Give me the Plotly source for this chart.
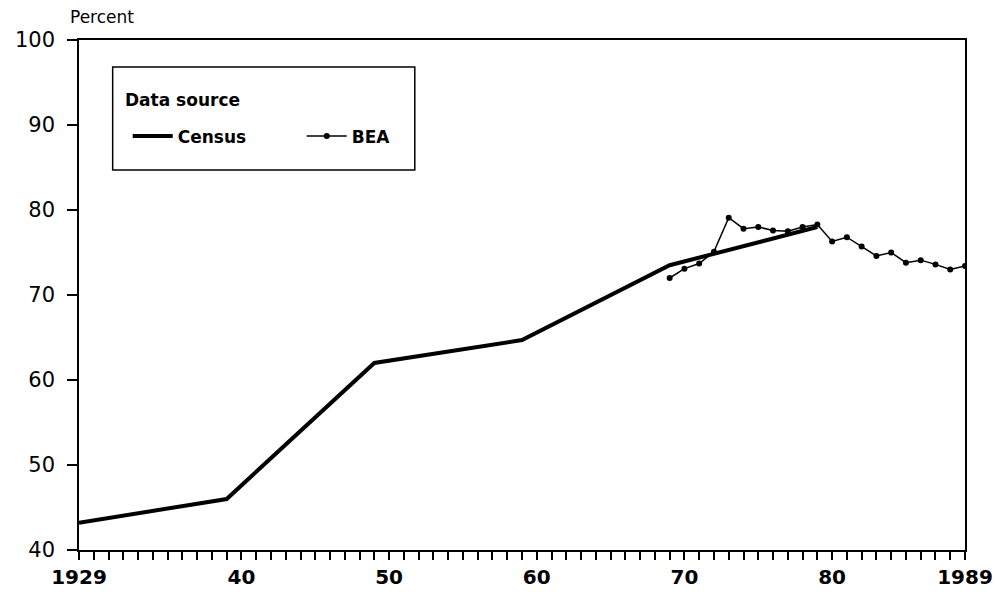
import plotly.graph_objects as go

# Census (decennial) and BEA (annual) series, percent
census_years = [1929, 1939, 1949, 1959, 1969, 1979]
census_pct = [43.2, 46.0, 62.0, 64.7, 73.5, 78.0]

bea_years = list(range(1969, 1990))
bea_pct = [72.0, 73.1, 73.7, 75.1, 79.1, 77.8, 78.0, 77.6, 77.5, 78.0, 78.3,
           76.3, 76.8, 75.7, 74.6, 75.0, 73.8, 74.1, 73.6, 73.0, 73.4]

xtick_vals = [1929, 1940, 1950, 1960, 1970, 1980, 1989]
xtick_text = ["1929", "40", "50", "60", "70", "80", "1989"]
ytick_vals = [40, 50, 60, 70, 80, 90, 100]

FONT = "DejaVu Sans, sans-serif"

fig = go.Figure()
fig.add_trace(go.Scatter(x=census_years, y=census_pct, mode="lines", name="<b>Census</b>",
                         line=dict(color="black", width=4)))
fig.add_trace(go.Scatter(x=bea_years, y=bea_pct, mode="lines+markers", name="<b>BEA</b>",
                         line=dict(color="black", width=1.5),
                         marker=dict(color="black", size=6)))

# legend frame + title
fig.add_shape(type="rect", xref="paper", yref="paper", x0=0.038, x1=0.379, y0=0.745, y1=0.947,
              line=dict(color="black", width=1.5), fillcolor="white", layer="below")
fig.add_annotation(text="<b>Data source</b>", xref="paper", yref="paper", x=0.05, y=0.882,
                   xanchor="left", yanchor="middle", showarrow=False,
                   font=dict(size=17, color="black", family=FONT))

fig.add_annotation(text="Percent", xref="paper", yref="paper", x=-0.012, y=1.045,
                   xanchor="left", yanchor="middle", showarrow=False,
                   font=dict(size=17, color="black", family=FONT))

fig.update_layout(
    width=1005, height=599,
    margin=dict(l=71, r=48, t=32, b=57),
    paper_bgcolor="white", plot_bgcolor="white",
    font=dict(family=FONT, color="black"),
    legend=dict(
        orientation="h", x=0.055, y=0.846, xanchor="left", yanchor="top",
        bgcolor="rgba(0,0,0,0)", font=dict(size=17),
        entrywidth=119, itemwidth=40,
    ),
    xaxis=dict(range=[1929, 1989], tickvals=xtick_vals, ticktext=["<b>%s</b>" % t for t in xtick_text],
               ticks="outside", ticklen=8, tickwidth=1.5, tickcolor="black",
               minor=dict(dtick=1, tick0=1929, ticks="outside", ticklen=8, tickwidth=1.5, tickcolor="black"),
               showline=True, linecolor="black", linewidth=1.5, mirror=True, automargin=False,
               showgrid=False, zeroline=False, tickfont=dict(size=20)),
    yaxis=dict(range=[40, 100], tickvals=ytick_vals,
               ticks="outside", ticklen=10, tickwidth=1.5, tickcolor="black",
               ticklabelstandoff=8, automargin=False,
               showline=True, linecolor="black", linewidth=1.5, mirror=True,
               showgrid=False, zeroline=False, tickfont=dict(size=21)),
)

fig.write_html("out.html")
